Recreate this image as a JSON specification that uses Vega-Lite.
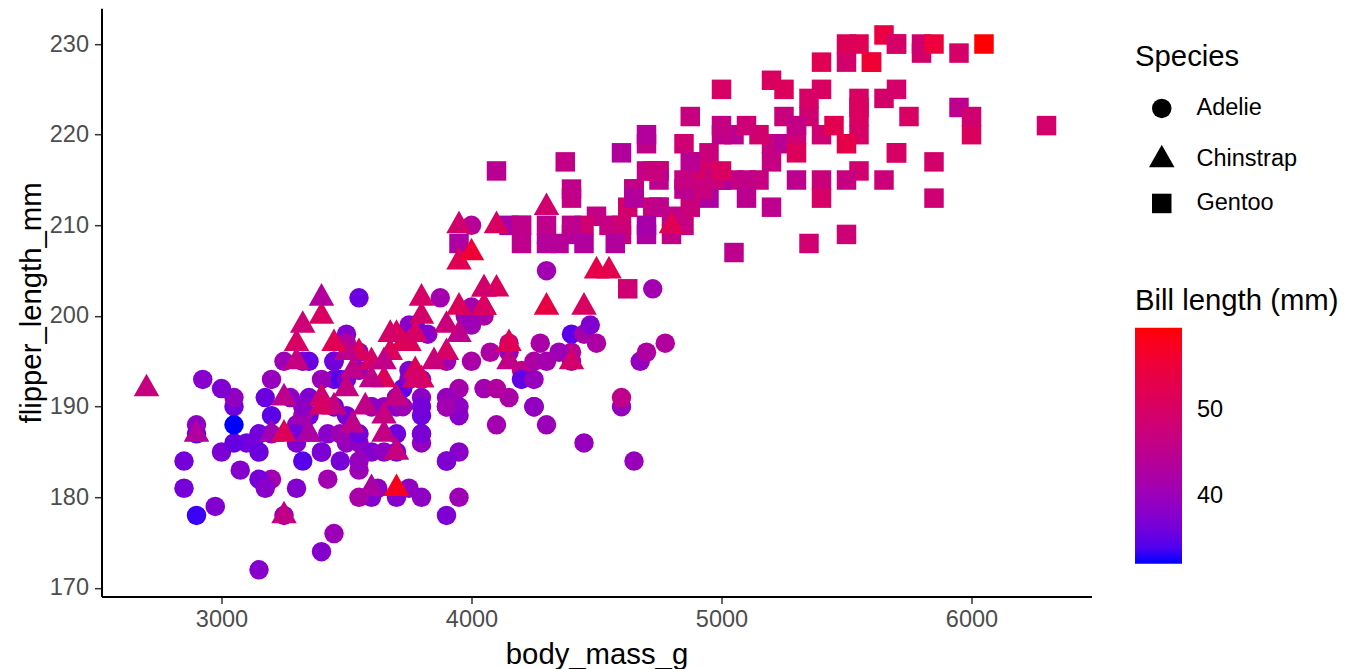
{
  "$schema": "https://vega.github.io/schema/vega-lite/v6.json",
  "width": 990,
  "height": 588.4,
  "autosize": "none",
  "padding": {"left": 101.5, "top": 8.2, "right": 261.5, "bottom": 72.4},
  "background": "white",
  "config": {
    "view": {"stroke": null},
    "font": "Liberation Sans"
  },
  "data": {
    "values": [
      {"species":"Adelie","mass":3750,"flipper":181,"bill":39.1},
      {"species":"Adelie","mass":3800,"flipper":186,"bill":39.5},
      {"species":"Adelie","mass":3250,"flipper":195,"bill":40.3},
      {"species":"Adelie","mass":3450,"flipper":193,"bill":36.7},
      {"species":"Adelie","mass":3650,"flipper":190,"bill":39.3},
      {"species":"Adelie","mass":3625,"flipper":181,"bill":38.9},
      {"species":"Adelie","mass":4675,"flipper":195,"bill":39.2},
      {"species":"Adelie","mass":3475,"flipper":193,"bill":34.1},
      {"species":"Adelie","mass":4250,"flipper":190,"bill":42.0},
      {"species":"Adelie","mass":3300,"flipper":186,"bill":37.8},
      {"species":"Adelie","mass":3700,"flipper":180,"bill":37.8},
      {"species":"Adelie","mass":3200,"flipper":182,"bill":41.1},
      {"species":"Adelie","mass":3800,"flipper":191,"bill":38.6},
      {"species":"Adelie","mass":4400,"flipper":198,"bill":34.6},
      {"species":"Adelie","mass":3700,"flipper":185,"bill":36.6},
      {"species":"Adelie","mass":3450,"flipper":195,"bill":38.7},
      {"species":"Adelie","mass":4500,"flipper":197,"bill":42.5},
      {"species":"Adelie","mass":3325,"flipper":184,"bill":34.4},
      {"species":"Adelie","mass":4200,"flipper":194,"bill":46.0},
      {"species":"Adelie","mass":3400,"flipper":174,"bill":37.8},
      {"species":"Adelie","mass":3600,"flipper":180,"bill":37.7},
      {"species":"Adelie","mass":3800,"flipper":189,"bill":35.9},
      {"species":"Adelie","mass":3950,"flipper":185,"bill":38.2},
      {"species":"Adelie","mass":3800,"flipper":180,"bill":38.8},
      {"species":"Adelie","mass":3800,"flipper":187,"bill":35.3},
      {"species":"Adelie","mass":3550,"flipper":183,"bill":40.6},
      {"species":"Adelie","mass":3200,"flipper":187,"bill":40.5},
      {"species":"Adelie","mass":3150,"flipper":172,"bill":37.9},
      {"species":"Adelie","mass":3950,"flipper":180,"bill":40.5},
      {"species":"Adelie","mass":3250,"flipper":178,"bill":39.5},
      {"species":"Adelie","mass":3900,"flipper":178,"bill":37.2},
      {"species":"Adelie","mass":3300,"flipper":188,"bill":39.5},
      {"species":"Adelie","mass":3900,"flipper":184,"bill":40.9},
      {"species":"Adelie","mass":3325,"flipper":195,"bill":36.4},
      {"species":"Adelie","mass":4150,"flipper":196,"bill":39.2},
      {"species":"Adelie","mass":3950,"flipper":190,"bill":38.8},
      {"species":"Adelie","mass":3550,"flipper":180,"bill":42.2},
      {"species":"Adelie","mass":3300,"flipper":181,"bill":37.6},
      {"species":"Adelie","mass":4650,"flipper":184,"bill":39.8},
      {"species":"Adelie","mass":3150,"flipper":182,"bill":36.5},
      {"species":"Adelie","mass":3900,"flipper":195,"bill":40.8},
      {"species":"Adelie","mass":3100,"flipper":186,"bill":36.0},
      {"species":"Adelie","mass":4400,"flipper":196,"bill":44.1},
      {"species":"Adelie","mass":3000,"flipper":185,"bill":37.0},
      {"species":"Adelie","mass":4600,"flipper":190,"bill":39.6},
      {"species":"Adelie","mass":3425,"flipper":182,"bill":41.1},
      {"species":"Adelie","mass":2975,"flipper":179,"bill":37.5},
      {"species":"Adelie","mass":3450,"flipper":190,"bill":36.0},
      {"species":"Adelie","mass":4150,"flipper":191,"bill":42.3},
      {"species":"Adelie","mass":3500,"flipper":186,"bill":39.6},
      {"species":"Adelie","mass":4300,"flipper":188,"bill":40.1},
      {"species":"Adelie","mass":3450,"flipper":190,"bill":35.0},
      {"species":"Adelie","mass":4050,"flipper":200,"bill":42.0},
      {"species":"Adelie","mass":2900,"flipper":187,"bill":34.5},
      {"species":"Adelie","mass":3700,"flipper":191,"bill":41.4},
      {"species":"Adelie","mass":3550,"flipper":186,"bill":39.0},
      {"species":"Adelie","mass":3800,"flipper":193,"bill":40.6},
      {"species":"Adelie","mass":2850,"flipper":181,"bill":36.5},
      {"species":"Adelie","mass":3750,"flipper":194,"bill":37.6},
      {"species":"Adelie","mass":3150,"flipper":185,"bill":35.7},
      {"species":"Adelie","mass":4400,"flipper":195,"bill":41.3},
      {"species":"Adelie","mass":3600,"flipper":185,"bill":37.6},
      {"species":"Adelie","mass":4050,"flipper":192,"bill":41.1},
      {"species":"Adelie","mass":2850,"flipper":184,"bill":36.4},
      {"species":"Adelie","mass":3950,"flipper":192,"bill":41.6},
      {"species":"Adelie","mass":3350,"flipper":195,"bill":35.5},
      {"species":"Adelie","mass":4100,"flipper":188,"bill":41.1},
      {"species":"Adelie","mass":3050,"flipper":190,"bill":35.9},
      {"species":"Adelie","mass":4450,"flipper":198,"bill":41.8},
      {"species":"Adelie","mass":3600,"flipper":190,"bill":33.5},
      {"species":"Adelie","mass":3900,"flipper":190,"bill":39.7},
      {"species":"Adelie","mass":3550,"flipper":196,"bill":39.6},
      {"species":"Adelie","mass":4150,"flipper":197,"bill":45.8},
      {"species":"Adelie","mass":3700,"flipper":190,"bill":35.5},
      {"species":"Adelie","mass":4250,"flipper":195,"bill":42.8},
      {"species":"Adelie","mass":3700,"flipper":191,"bill":40.9},
      {"species":"Adelie","mass":3900,"flipper":184,"bill":37.2},
      {"species":"Adelie","mass":3550,"flipper":187,"bill":36.2},
      {"species":"Adelie","mass":4000,"flipper":195,"bill":42.1},
      {"species":"Adelie","mass":3200,"flipper":189,"bill":34.6},
      {"species":"Adelie","mass":4700,"flipper":196,"bill":42.9},
      {"species":"Adelie","mass":3800,"flipper":187,"bill":36.7},
      {"species":"Adelie","mass":4200,"flipper":193,"bill":35.1},
      {"species":"Adelie","mass":3350,"flipper":191,"bill":37.3},
      {"species":"Adelie","mass":3550,"flipper":194,"bill":41.3},
      {"species":"Adelie","mass":3800,"flipper":190,"bill":36.3},
      {"species":"Adelie","mass":3500,"flipper":189,"bill":36.9},
      {"species":"Adelie","mass":3950,"flipper":189,"bill":38.3},
      {"species":"Adelie","mass":3600,"flipper":190,"bill":38.9},
      {"species":"Adelie","mass":3550,"flipper":202,"bill":35.7},
      {"species":"Adelie","mass":4300,"flipper":205,"bill":41.1},
      {"species":"Adelie","mass":3400,"flipper":185,"bill":34.0},
      {"species":"Adelie","mass":4450,"flipper":186,"bill":39.6},
      {"species":"Adelie","mass":3300,"flipper":187,"bill":36.2},
      {"species":"Adelie","mass":4300,"flipper":208,"bill":40.8},
      {"species":"Adelie","mass":3700,"flipper":190,"bill":38.1},
      {"species":"Adelie","mass":4350,"flipper":196,"bill":40.3},
      {"species":"Adelie","mass":2900,"flipper":178,"bill":33.1},
      {"species":"Adelie","mass":4100,"flipper":192,"bill":43.2},
      {"species":"Adelie","mass":3725,"flipper":192,"bill":35.0},
      {"species":"Adelie","mass":4725,"flipper":203,"bill":41.0},
      {"species":"Adelie","mass":3075,"flipper":183,"bill":37.7},
      {"species":"Adelie","mass":4250,"flipper":190,"bill":37.8},
      {"species":"Adelie","mass":2925,"flipper":193,"bill":37.9},
      {"species":"Adelie","mass":3550,"flipper":184,"bill":39.7},
      {"species":"Adelie","mass":3750,"flipper":199,"bill":38.6},
      {"species":"Adelie","mass":3900,"flipper":190,"bill":38.2},
      {"species":"Adelie","mass":3175,"flipper":181,"bill":38.1},
      {"species":"Adelie","mass":4775,"flipper":197,"bill":43.2},
      {"species":"Adelie","mass":3825,"flipper":198,"bill":38.1},
      {"species":"Adelie","mass":4600,"flipper":191,"bill":45.6},
      {"species":"Adelie","mass":3200,"flipper":193,"bill":39.7},
      {"species":"Adelie","mass":4275,"flipper":197,"bill":42.2},
      {"species":"Adelie","mass":3900,"flipper":191,"bill":39.6},
      {"species":"Adelie","mass":4075,"flipper":196,"bill":42.7},
      {"species":"Adelie","mass":2900,"flipper":188,"bill":38.6},
      {"species":"Adelie","mass":3775,"flipper":199,"bill":37.3},
      {"species":"Adelie","mass":3350,"flipper":189,"bill":35.7},
      {"species":"Adelie","mass":3325,"flipper":189,"bill":41.1},
      {"species":"Adelie","mass":3150,"flipper":187,"bill":36.2},
      {"species":"Adelie","mass":3500,"flipper":198,"bill":37.7},
      {"species":"Adelie","mass":3450,"flipper":176,"bill":40.2},
      {"species":"Adelie","mass":3875,"flipper":202,"bill":41.4},
      {"species":"Adelie","mass":3050,"flipper":186,"bill":35.2},
      {"species":"Adelie","mass":4000,"flipper":199,"bill":40.6},
      {"species":"Adelie","mass":3275,"flipper":191,"bill":38.8},
      {"species":"Adelie","mass":4300,"flipper":195,"bill":41.5},
      {"species":"Adelie","mass":3050,"flipper":191,"bill":39.0},
      {"species":"Adelie","mass":4000,"flipper":210,"bill":44.1},
      {"species":"Adelie","mass":3325,"flipper":190,"bill":38.5},
      {"species":"Adelie","mass":3500,"flipper":197,"bill":43.1},
      {"species":"Adelie","mass":3500,"flipper":193,"bill":36.8},
      {"species":"Adelie","mass":4475,"flipper":199,"bill":37.5},
      {"species":"Adelie","mass":3425,"flipper":187,"bill":38.1},
      {"species":"Adelie","mass":3900,"flipper":190,"bill":41.1},
      {"species":"Adelie","mass":3175,"flipper":191,"bill":35.6},
      {"species":"Adelie","mass":3975,"flipper":200,"bill":40.2},
      {"species":"Adelie","mass":3400,"flipper":185,"bill":37.0},
      {"species":"Adelie","mass":4250,"flipper":193,"bill":39.7},
      {"species":"Adelie","mass":3400,"flipper":193,"bill":40.2},
      {"species":"Adelie","mass":3475,"flipper":187,"bill":40.6},
      {"species":"Adelie","mass":3050,"flipper":188,"bill":32.1},
      {"species":"Adelie","mass":3725,"flipper":190,"bill":40.7},
      {"species":"Adelie","mass":3000,"flipper":192,"bill":37.3},
      {"species":"Adelie","mass":3650,"flipper":185,"bill":39.0},
      {"species":"Adelie","mass":4250,"flipper":190,"bill":39.2},
      {"species":"Adelie","mass":3475,"flipper":184,"bill":36.6},
      {"species":"Adelie","mass":3450,"flipper":195,"bill":36.0},
      {"species":"Adelie","mass":3750,"flipper":193,"bill":37.8},
      {"species":"Adelie","mass":3700,"flipper":187,"bill":36.0},
      {"species":"Adelie","mass":4000,"flipper":201,"bill":41.5},
      {"species":"Gentoo","mass":4500,"flipper":211,"bill":46.1},
      {"species":"Gentoo","mass":5700,"flipper":230,"bill":50.0},
      {"species":"Gentoo","mass":4450,"flipper":210,"bill":48.7},
      {"species":"Gentoo","mass":5700,"flipper":218,"bill":50.0},
      {"species":"Gentoo","mass":5400,"flipper":215,"bill":47.6},
      {"species":"Gentoo","mass":4550,"flipper":210,"bill":46.5},
      {"species":"Gentoo","mass":4800,"flipper":211,"bill":45.4},
      {"species":"Gentoo","mass":5200,"flipper":219,"bill":46.7},
      {"species":"Gentoo","mass":4400,"flipper":209,"bill":43.3},
      {"species":"Gentoo","mass":5150,"flipper":215,"bill":46.8},
      {"species":"Gentoo","mass":4650,"flipper":214,"bill":40.9},
      {"species":"Gentoo","mass":5550,"flipper":216,"bill":49.0},
      {"species":"Gentoo","mass":4650,"flipper":214,"bill":45.5},
      {"species":"Gentoo","mass":5850,"flipper":213,"bill":48.4},
      {"species":"Gentoo","mass":4200,"flipper":210,"bill":45.8},
      {"species":"Gentoo","mass":5850,"flipper":217,"bill":49.3},
      {"species":"Gentoo","mass":4150,"flipper":210,"bill":42.0},
      {"species":"Gentoo","mass":6300,"flipper":221,"bill":49.2},
      {"species":"Gentoo","mass":4800,"flipper":209,"bill":46.2},
      {"species":"Gentoo","mass":5350,"flipper":222,"bill":48.7},
      {"species":"Gentoo","mass":5700,"flipper":218,"bill":50.2},
      {"species":"Gentoo","mass":5000,"flipper":215,"bill":45.1},
      {"species":"Gentoo","mass":4400,"flipper":213,"bill":46.5},
      {"species":"Gentoo","mass":5050,"flipper":215,"bill":46.3},
      {"species":"Gentoo","mass":5000,"flipper":215,"bill":42.9},
      {"species":"Gentoo","mass":5100,"flipper":215,"bill":46.1},
      {"species":"Gentoo","mass":4100,"flipper":216,"bill":44.5},
      {"species":"Gentoo","mass":5650,"flipper":215,"bill":47.8},
      {"species":"Gentoo","mass":4600,"flipper":210,"bill":48.2},
      {"species":"Gentoo","mass":5550,"flipper":220,"bill":50.0},
      {"species":"Gentoo","mass":5250,"flipper":222,"bill":47.3},
      {"species":"Gentoo","mass":4700,"flipper":209,"bill":42.8},
      {"species":"Gentoo","mass":5050,"flipper":207,"bill":45.1},
      {"species":"Gentoo","mass":6050,"flipper":230,"bill":59.6},
      {"species":"Gentoo","mass":5150,"flipper":220,"bill":49.1},
      {"species":"Gentoo","mass":5400,"flipper":220,"bill":48.4},
      {"species":"Gentoo","mass":4950,"flipper":213,"bill":42.6},
      {"species":"Gentoo","mass":5250,"flipper":219,"bill":44.4},
      {"species":"Gentoo","mass":4350,"flipper":208,"bill":44.0},
      {"species":"Gentoo","mass":5350,"flipper":208,"bill":48.7},
      {"species":"Gentoo","mass":3950,"flipper":208,"bill":42.7},
      {"species":"Gentoo","mass":5700,"flipper":225,"bill":49.6},
      {"species":"Gentoo","mass":4300,"flipper":210,"bill":45.3},
      {"species":"Gentoo","mass":4750,"flipper":216,"bill":49.6},
      {"species":"Gentoo","mass":5550,"flipper":222,"bill":50.5},
      {"species":"Gentoo","mass":4900,"flipper":217,"bill":43.6},
      {"species":"Gentoo","mass":4200,"flipper":210,"bill":45.5},
      {"species":"Gentoo","mass":5400,"flipper":225,"bill":50.5},
      {"species":"Gentoo","mass":5100,"flipper":213,"bill":44.9},
      {"species":"Gentoo","mass":5300,"flipper":215,"bill":45.2},
      {"species":"Gentoo","mass":4850,"flipper":210,"bill":46.6},
      {"species":"Gentoo","mass":5300,"flipper":220,"bill":48.5},
      {"species":"Gentoo","mass":4400,"flipper":210,"bill":45.1},
      {"species":"Gentoo","mass":5000,"flipper":225,"bill":50.1},
      {"species":"Gentoo","mass":4900,"flipper":217,"bill":46.5},
      {"species":"Gentoo","mass":5050,"flipper":220,"bill":45.0},
      {"species":"Gentoo","mass":4300,"flipper":208,"bill":43.8},
      {"species":"Gentoo","mass":5000,"flipper":220,"bill":45.5},
      {"species":"Gentoo","mass":4450,"flipper":208,"bill":43.2},
      {"species":"Gentoo","mass":5550,"flipper":224,"bill":50.4},
      {"species":"Gentoo","mass":4200,"flipper":208,"bill":45.3},
      {"species":"Gentoo","mass":5300,"flipper":221,"bill":46.2},
      {"species":"Gentoo","mass":4400,"flipper":214,"bill":45.7},
      {"species":"Gentoo","mass":5650,"flipper":231,"bill":54.3},
      {"species":"Gentoo","mass":4700,"flipper":219,"bill":45.8},
      {"species":"Gentoo","mass":5700,"flipper":230,"bill":49.8},
      {"species":"Gentoo","mass":4650,"flipper":214,"bill":46.2},
      {"species":"Gentoo","mass":5800,"flipper":229,"bill":49.5},
      {"species":"Gentoo","mass":4700,"flipper":220,"bill":43.5},
      {"species":"Gentoo","mass":5550,"flipper":223,"bill":50.7},
      {"species":"Gentoo","mass":4750,"flipper":216,"bill":47.7},
      {"species":"Gentoo","mass":5000,"flipper":221,"bill":46.4},
      {"species":"Gentoo","mass":5100,"flipper":221,"bill":48.2},
      {"species":"Gentoo","mass":5200,"flipper":217,"bill":46.5},
      {"species":"Gentoo","mass":4700,"flipper":216,"bill":46.4},
      {"species":"Gentoo","mass":5800,"flipper":230,"bill":48.6},
      {"species":"Gentoo","mass":4600,"flipper":209,"bill":47.5},
      {"species":"Gentoo","mass":6000,"flipper":220,"bill":51.1},
      {"species":"Gentoo","mass":4750,"flipper":215,"bill":45.2},
      {"species":"Gentoo","mass":5950,"flipper":223,"bill":45.2},
      {"species":"Gentoo","mass":4625,"flipper":212,"bill":49.1},
      {"species":"Gentoo","mass":5450,"flipper":221,"bill":52.5},
      {"species":"Gentoo","mass":4725,"flipper":212,"bill":47.4},
      {"species":"Gentoo","mass":5350,"flipper":224,"bill":50.0},
      {"species":"Gentoo","mass":4750,"flipper":212,"bill":44.9},
      {"species":"Gentoo","mass":5600,"flipper":228,"bill":50.8},
      {"species":"Gentoo","mass":4600,"flipper":218,"bill":43.4},
      {"species":"Gentoo","mass":5300,"flipper":218,"bill":51.3},
      {"species":"Gentoo","mass":4875,"flipper":212,"bill":47.5},
      {"species":"Gentoo","mass":5550,"flipper":230,"bill":52.1},
      {"species":"Gentoo","mass":4950,"flipper":218,"bill":47.5},
      {"species":"Gentoo","mass":5400,"flipper":228,"bill":52.2},
      {"species":"Gentoo","mass":4750,"flipper":212,"bill":45.5},
      {"species":"Gentoo","mass":5650,"flipper":224,"bill":49.5},
      {"species":"Gentoo","mass":4850,"flipper":214,"bill":44.5},
      {"species":"Gentoo","mass":5200,"flipper":226,"bill":50.8},
      {"species":"Gentoo","mass":4925,"flipper":216,"bill":49.4},
      {"species":"Gentoo","mass":4875,"flipper":222,"bill":46.9},
      {"species":"Gentoo","mass":4625,"flipper":203,"bill":48.4},
      {"species":"Gentoo","mass":5250,"flipper":225,"bill":51.1},
      {"species":"Gentoo","mass":4850,"flipper":219,"bill":48.5},
      {"species":"Gentoo","mass":5600,"flipper":228,"bill":55.9},
      {"species":"Gentoo","mass":4975,"flipper":215,"bill":47.2},
      {"species":"Gentoo","mass":5500,"flipper":228,"bill":49.1},
      {"species":"Gentoo","mass":4725,"flipper":216,"bill":47.3},
      {"species":"Gentoo","mass":5500,"flipper":215,"bill":46.8},
      {"species":"Gentoo","mass":4700,"flipper":210,"bill":41.7},
      {"species":"Gentoo","mass":5500,"flipper":219,"bill":53.4},
      {"species":"Gentoo","mass":4575,"flipper":208,"bill":43.3},
      {"species":"Gentoo","mass":5500,"flipper":209,"bill":48.1},
      {"species":"Gentoo","mass":5000,"flipper":216,"bill":50.5},
      {"species":"Gentoo","mass":5950,"flipper":229,"bill":49.8},
      {"species":"Gentoo","mass":4650,"flipper":213,"bill":43.5},
      {"species":"Gentoo","mass":5500,"flipper":230,"bill":51.5},
      {"species":"Gentoo","mass":4375,"flipper":217,"bill":46.2},
      {"species":"Gentoo","mass":5850,"flipper":230,"bill":55.1},
      {"species":"Gentoo","mass":4875,"flipper":217,"bill":44.5},
      {"species":"Gentoo","mass":6000,"flipper":222,"bill":48.8},
      {"species":"Gentoo","mass":4925,"flipper":214,"bill":47.2},
      {"species":"Gentoo","mass":4850,"flipper":215,"bill":46.8},
      {"species":"Gentoo","mass":5750,"flipper":222,"bill":50.4},
      {"species":"Gentoo","mass":5200,"flipper":212,"bill":45.2},
      {"species":"Gentoo","mass":5400,"flipper":213,"bill":49.9},
      {"species":"Chinstrap","mass":3500,"flipper":192,"bill":46.5},
      {"species":"Chinstrap","mass":3900,"flipper":196,"bill":50.0},
      {"species":"Chinstrap","mass":3650,"flipper":193,"bill":51.3},
      {"species":"Chinstrap","mass":3525,"flipper":188,"bill":45.4},
      {"species":"Chinstrap","mass":3725,"flipper":197,"bill":52.7},
      {"species":"Chinstrap","mass":3950,"flipper":198,"bill":45.2},
      {"species":"Chinstrap","mass":3250,"flipper":178,"bill":46.1},
      {"species":"Chinstrap","mass":3750,"flipper":197,"bill":51.3},
      {"species":"Chinstrap","mass":4150,"flipper":195,"bill":46.0},
      {"species":"Chinstrap","mass":3700,"flipper":198,"bill":51.3},
      {"species":"Chinstrap","mass":3800,"flipper":193,"bill":46.6},
      {"species":"Chinstrap","mass":3775,"flipper":194,"bill":51.7},
      {"species":"Chinstrap","mass":3700,"flipper":185,"bill":47.0},
      {"species":"Chinstrap","mass":4050,"flipper":201,"bill":52.0},
      {"species":"Chinstrap","mass":3575,"flipper":190,"bill":45.9},
      {"species":"Chinstrap","mass":4050,"flipper":201,"bill":50.5},
      {"species":"Chinstrap","mass":3300,"flipper":197,"bill":50.3},
      {"species":"Chinstrap","mass":3700,"flipper":181,"bill":58.0},
      {"species":"Chinstrap","mass":3450,"flipper":190,"bill":46.4},
      {"species":"Chinstrap","mass":4400,"flipper":195,"bill":49.2},
      {"species":"Chinstrap","mass":3600,"flipper":181,"bill":42.4},
      {"species":"Chinstrap","mass":3400,"flipper":191,"bill":48.5},
      {"species":"Chinstrap","mass":2900,"flipper":187,"bill":43.2},
      {"species":"Chinstrap","mass":3800,"flipper":193,"bill":50.6},
      {"species":"Chinstrap","mass":3300,"flipper":195,"bill":46.7},
      {"species":"Chinstrap","mass":4150,"flipper":197,"bill":52.0},
      {"species":"Chinstrap","mass":3400,"flipper":200,"bill":50.5},
      {"species":"Chinstrap","mass":3800,"flipper":200,"bill":49.5},
      {"species":"Chinstrap","mass":3700,"flipper":191,"bill":46.4},
      {"species":"Chinstrap","mass":4550,"flipper":205,"bill":52.8},
      {"species":"Chinstrap","mass":3200,"flipper":187,"bill":40.9},
      {"species":"Chinstrap","mass":4300,"flipper":201,"bill":54.2},
      {"species":"Chinstrap","mass":3350,"flipper":187,"bill":42.5},
      {"species":"Chinstrap","mass":4100,"flipper":203,"bill":51.0},
      {"species":"Chinstrap","mass":3600,"flipper":195,"bill":49.7},
      {"species":"Chinstrap","mass":3900,"flipper":199,"bill":47.5},
      {"species":"Chinstrap","mass":3850,"flipper":195,"bill":47.6},
      {"species":"Chinstrap","mass":4800,"flipper":210,"bill":52.0},
      {"species":"Chinstrap","mass":2700,"flipper":192,"bill":46.9},
      {"species":"Chinstrap","mass":4500,"flipper":205,"bill":53.5},
      {"species":"Chinstrap","mass":3950,"flipper":210,"bill":49.0},
      {"species":"Chinstrap","mass":3650,"flipper":187,"bill":46.2},
      {"species":"Chinstrap","mass":3550,"flipper":196,"bill":50.9},
      {"species":"Chinstrap","mass":3500,"flipper":196,"bill":45.5},
      {"species":"Chinstrap","mass":3675,"flipper":196,"bill":50.9},
      {"species":"Chinstrap","mass":4450,"flipper":201,"bill":50.8},
      {"species":"Chinstrap","mass":3400,"flipper":190,"bill":50.1},
      {"species":"Chinstrap","mass":4300,"flipper":212,"bill":49.0},
      {"species":"Chinstrap","mass":3250,"flipper":187,"bill":51.5},
      {"species":"Chinstrap","mass":3675,"flipper":198,"bill":49.8},
      {"species":"Chinstrap","mass":3325,"flipper":199,"bill":48.1},
      {"species":"Chinstrap","mass":3950,"flipper":201,"bill":51.4},
      {"species":"Chinstrap","mass":3600,"flipper":193,"bill":45.7},
      {"species":"Chinstrap","mass":4050,"flipper":203,"bill":50.7},
      {"species":"Chinstrap","mass":3350,"flipper":187,"bill":42.5},
      {"species":"Chinstrap","mass":3450,"flipper":197,"bill":52.2},
      {"species":"Chinstrap","mass":3250,"flipper":191,"bill":45.2},
      {"species":"Chinstrap","mass":4050,"flipper":203,"bill":49.3},
      {"species":"Chinstrap","mass":3800,"flipper":202,"bill":50.2},
      {"species":"Chinstrap","mass":3525,"flipper":194,"bill":45.6},
      {"species":"Chinstrap","mass":3950,"flipper":206,"bill":51.9},
      {"species":"Chinstrap","mass":3650,"flipper":189,"bill":46.8},
      {"species":"Chinstrap","mass":3650,"flipper":195,"bill":45.7},
      {"species":"Chinstrap","mass":4000,"flipper":207,"bill":55.8},
      {"species":"Chinstrap","mass":3400,"flipper":202,"bill":43.5},
      {"species":"Chinstrap","mass":3775,"flipper":193,"bill":49.6},
      {"species":"Chinstrap","mass":4100,"flipper":210,"bill":50.8},
      {"species":"Chinstrap","mass":3775,"flipper":198,"bill":50.2}
    ]
  },
  "mark": {"type": "point", "filled": true, "opacity": 1, "size": 380, "strokeWidth": 0},
  "encoding": {
    "x": {
      "field": "mass",
      "type": "quantitative",
      "scale": {"domain": [2520, 6480], "nice": false, "zero": false},
      "axis": {
        "title": "body_mass_g",
        "values": [3000, 4000, 5000, 6000],
        "format": "d",
        "grid": false,
        "domainColor": "black",
        "domainWidth": 2,
        "tickColor": "#333333",
        "tickWidth": 1.5,
        "tickSize": 7,
        "labelFont": "Liberation Sans",
        "labelFontSize": 23.5,
        "labelColor": "#4D4D4D",
        "labelPadding": 4,
        "titleFont": "Liberation Sans",
        "titleFontSize": 29.3,
        "titleFontWeight": "normal",
        "titleColor": "black",
        "titlePadding": 9
      }
    },
    "y": {
      "field": "flipper",
      "type": "quantitative",
      "scale": {"domain": [169.05, 233.95], "nice": false, "zero": false},
      "axis": {
        "title": "flipper_length_mm",
        "values": [170, 180, 190, 200, 210, 220, 230],
        "format": "d",
        "grid": false,
        "domainColor": "black",
        "domainWidth": 2,
        "tickColor": "#333333",
        "tickWidth": 1.5,
        "tickSize": 7,
        "labelFont": "Liberation Sans",
        "labelFontSize": 23.5,
        "labelColor": "#4D4D4D",
        "labelPadding": 6,
        "titleFont": "Liberation Sans",
        "titleFontSize": 29.3,
        "titleFontWeight": "normal",
        "titleColor": "black",
        "titlePadding": 3
      }
    },
    "shape": {
      "field": "species",
      "type": "nominal",
      "scale": {
        "domain": ["Adelie", "Chinstrap", "Gentoo"],
        "range": ["circle", "M0,-1.52L1.31,0.8L-1.31,0.8Z", "square"]
      },
      "legend": {
        "title": "Species",
        "orient": "none",
        "legendX": 1033.5,
        "legendY": 35.2,
        "padding": 0,
        "titleFont": "Liberation Sans",
        "titleFontSize": 29.3,
        "titleFontWeight": "normal",
        "titleColor": "black",
        "titlePadding": 24,
        "labelFont": "Liberation Sans",
        "labelFontSize": 23.5,
        "labelColor": "black",
        "labelOffset": 23,
        "symbolOffset": 15,
        "symbolSize": 380,
        "rowPadding": 19,
        "encode": {
          "symbols": {
            "update": {
              "fill": {"value": "black"},
              "stroke": {"value": "transparent"},
              "opacity": {"value": 1}
            }
          }
        }
      }
    },
    "color": {
      "field": "bill",
      "type": "quantitative",
      "scale": {"domain": [32.1, 59.6], "range": ["blue", "red"], "interpolate": "lab"},
      "legend": {
        "title": "Bill length (mm)",
        "type": "gradient",
        "orient": "none",
        "legendX": 1033.5,
        "legendY": 279.2,
        "padding": 0,
        "values": [40, 50],
        "gradientLength": 236,
        "gradientThickness": 47,
        "gradientStrokeWidth": 0,
        "titleLimit": 400,
        "titleFont": "Liberation Sans",
        "titleFontSize": 29.3,
        "titleFontWeight": "normal",
        "titleColor": "black",
        "titlePadding": 11,
        "labelFont": "Liberation Sans",
        "labelFontSize": 23.5,
        "labelColor": "black",
        "labelOffset": 15
      }
    }
  }
}
